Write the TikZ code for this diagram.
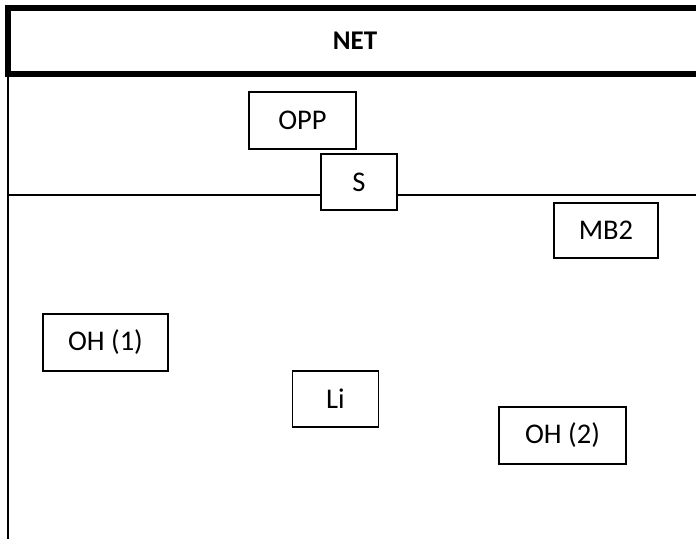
\documentclass[tikz,border=0pt]{standalone}
\usepackage{fontspec}
\setmainfont{Carlito}
\begin{document}
\begin{tikzpicture}[x=1pt,y=-1pt,
  every node/.style={font=\fontsize{28.5}{34}\selectfont},
  lbox/.style={draw, line width=1.5pt, fill=white, inner sep=0pt},
  rule/.style={line width=2pt}]
\useasboundingbox (0,0) rectangle (696,539);
\clip (0,0) rectangle (696,539);

% heading bar, its right edge runs past the frame
\node[draw, line width=6pt, inner sep=0pt, minimum width=694pt, minimum height=66pt,
      font=\fontsize{27}{32}\selectfont\bfseries] (net) at (355,41) {NET};

% frame lines
\coordinate (topleft) at (8,77);
\coordinate (bottomleft) at (8,539);
\coordinate (lineleft) at (8,195);
\coordinate (lineright) at (696,195);
\draw[rule] (topleft) -- (bottomleft);

% labelled boxes
\node[lbox, minimum width=107pt, minimum height=57pt] (opp) at (302.5,120.5) {OPP};
\node[lbox, minimum width=76pt, minimum height=56pt] (s) at (359,182) {S};
\node[lbox, minimum width=104pt, minimum height=55pt] (mb2) at (606,230.5) {MB2};
\node[lbox, minimum width=125pt, minimum height=57pt] (oh1) at (105.5,342.5) {OH (1)};
\node[lbox, minimum width=86pt, minimum height=56pt] (li) at (335.5,399) {Li};
\node[lbox, minimum width=127pt, minimum height=57pt] (oh2) at (562.5,435.5) {OH (2)};

% divider through S
\draw[rule] (lineleft) -- (s.west |- lineleft);
\draw[rule] (s.east |- lineright) -- (lineright);
\end{tikzpicture}
\end{document}
